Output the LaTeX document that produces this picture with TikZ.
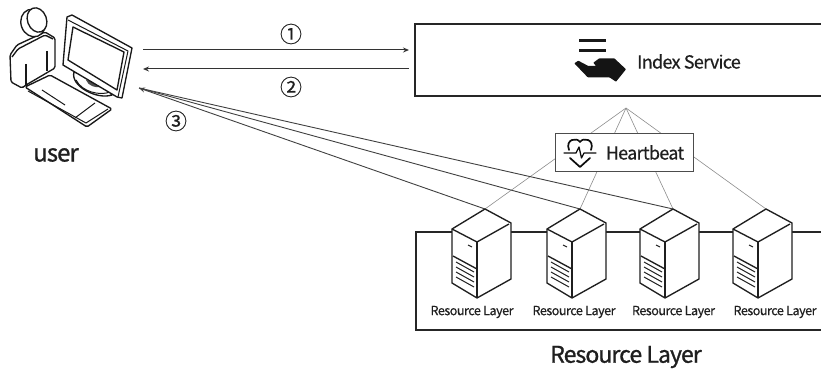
\documentclass[tikz,border=0pt]{standalone}
\usepackage{fontspec}
\setmainfont[LetterSpace=-4,FakeBold=0.5]{Noto Sans CJK KR}
\newfontfamily\headfont[LetterSpace=-4,FakeBold=1]{Noto Sans CJK KR}
\newfontfamily\circfont[FakeBold=0.3]{Noto Sans CJK KR}
\usetikzlibrary{arrows.meta}
\tikzset{
  frameline/.style={draw=black!85,line width=1.6pt},
  thinlink/.style={draw=black!45,line width=0.6pt},
  darklink/.style={draw=black!75,line width=0.9pt},
  flow/.style={draw=black!80,line width=1pt,-{Stealth[length=6pt,width=5pt]}},
  srv/.style={draw=black!88,line width=1.35pt,line join=round},
  usr/.style={draw=black!90,line width=1.35pt,line join=round},
  ico/.style={draw=black!95,line width=1.7pt,line join=round,line cap=round},
  lab/.style={inner sep=0pt,text=black!88},
  pics/serverunit/.style={code={
    \draw[srv,fill=white] (0,0)--(26,14)--(26,70)--(-8,89)--(-33,74)--(-33,20)--cycle;
    \draw[srv] (-33,20)--(-8,33)--(24,15);
    \draw[srv] (-8,33)--(-8,89);
    \draw[srv] (-32,47)--(-8,60);
    \draw[srv,line width=1pt] (-17,36)--(-13,38);
    \foreach \yy in {53,58,63,68}{\draw[srv,line width=1pt] (-29,\yy)--(-11,\yy+10);}
  }}
}
\begin{document}
\begin{tikzpicture}[x=1pt,y=-1pt]
\useasboundingbox (0,0) rectangle (821,374);
% anchors
\coordinate (hub) at (626,108);
\coordinate (s1) at (485,209);
\coordinate (s2) at (580,209);
\coordinate (s3) at (673,209);
\coordinate (s4) at (766,209);
\coordinate (uin) at (139,88);
\coordinate (uout) at (143,50);
\coordinate (uback) at (143,69);
\coordinate (ir) at (821,24);
\coordinate (il) at (415,24);
\coordinate (ilb) at (415,96);
\coordinate (irb) at (821,96);
\coordinate (rtr) at (821,232);
\coordinate (rtl) at (416,232);
\coordinate (rbl) at (416,330);
\coordinate (rbr) at (821,330);
\coordinate (iw1) at (409,50);
\coordinate (iw2) at (409,69);
% frames, open at the right
\draw[frameline] (ir) -- (il) -- (ilb) -- (irb);
\draw[frameline] (rtr) -- (rtl) -- (rbl) -- (rbr);
\node[lab,font=\fontsize{18}{19}\selectfont] (indext) at (689,61.5) {Index Service};
\node[lab,font=\headfont\fontsize{23}{24}\selectfont] (rl) at (626,357) {Resource Layer};
% links
\draw[thinlink] (hub)--(s1);
\draw[thinlink] (hub)--(s2);
\draw[thinlink] (hub)--(s3);
\draw[thinlink] (hub)--(s4);
\draw[darklink,{Stealth[length=6pt,width=5pt]}-] (uin)--(s1);
\draw[darklink] (uin)--(s2);
\draw[darklink] (uin)--(s3);
\draw[flow] (uout)--(iw1);
\draw[flow] (iw2)--(uback);
% heartbeat
\node[draw=black!70,line width=1pt,fill=white,minimum width=138pt,minimum height=38pt,inner sep=0pt] (hb) at (624,153) {};
\node[lab,font=\fontsize{18}{19}\selectfont] (hbt) at (645,152.5) {Heartbeat};
% heart icon
\begin{scope}[shift={(580,153)}]
\draw[ico] (-11,-3) .. controls (-15,-14) and (-3,-16) .. (0,-11) .. controls (3,-16) and (15,-14) .. (11,-3);
\draw[ico] (-10,5)--(0,14)--(10,5);
\draw[ico,line width=1.3pt] (-16,0)--(-4,0)--(-1,-6)--(1.5,5)--(4,0)--(16,0);
\end{scope}
% hand icon
\fill[black!90] (579,39.2) rectangle (606,42.5);
\fill[black!90] (579,49.2) rectangle (606,52.5);
\fill[black!92,rounded corners=.6pt] (574.3,63.3) -- (578.3,60.7) -- (588.3,66) -- (596,66) -- (593.3,62.7) -- (599.3,58.3) -- (614.3,58.3) -- (626,69.3) -- (616,81.7) -- (609.3,77.3) -- (587.7,77.3) -- cycle;
% servers
\pic at (s1) {serverunit};
\pic at (s2) {serverunit};
\pic at (s3) {serverunit};
\pic at (s4) {serverunit};
\foreach \n/\x in {a/472,b/574,c/673.5,d/775}{
  \node[lab,font=\fontsize{12.6}{13}\selectfont] (srvt\n) at (\x,312) {Resource Layer};
}
% labels
\node[lab,font=\circfont\fontsize{22}{23}\selectfont] (c1) at (291,34) {①};
\node[lab,font=\circfont\fontsize{22}{23}\selectfont] (c2) at (291,87) {②};
\node[lab,font=\circfont\fontsize{22}{23}\selectfont] (c3) at (176,121) {③};
\node[lab,font=\headfont\fontsize{24}{25}\selectfont] (ut) at (56,155) {user};
% user icon
\draw[usr,fill=white,rounded corners=1.5pt] (11,82) -- (10,55) -- (17,45) -- (45,32) -- (55,38) -- (55,68) -- (26,85) -- (22,88) -- cycle;
\draw[usr,rounded corners=1.5pt] (12,57) -- (18,49) -- (45,35) -- (53,39);
\draw[usr,line width=1.7pt] (26,64) -- (26,86);
\draw[usr,line width=1.7pt] (47,51) -- (47,71);
\draw[usr,fill=white,rotate around={20:(33,23)}] (33,23) ellipse (12 and 14);
\draw[usr,fill=white,rotate around={20:(37,20)}] (37,20) ellipse (9.5 and 12.5);
% keyboard
\draw[usr,fill=white,rounded corners=1.5pt] (25,87) -- (50,75) -- (112,109) -- (87,127) -- cycle;
\draw[usr,line width=1pt] (28,91) -- (86,123) -- (108,109);
\draw[usr,line width=1pt] (42,90) -- (65,105);
\draw[usr,line width=1pt] (75,118) -- (95,103);
% stand
\draw[usr,fill=white] (74,72) .. controls (70,86) and (97,100) .. (112,95) -- (100,80) -- cycle;
\draw[usr,line width=1pt] (76,80) .. controls (82,92) and (100,96) .. (110,92);
\fill[black!70] (86,80) .. controls (88,86) and (96,88) .. (100,87) -- (96,82) -- cycle;
% monitor
\draw[usr,fill=white] (67,17) -- (72,15) -- (132,48) -- (122,98) -- (117,97) -- (63,65) -- cycle;
\draw[usr] (73,27) -- (124,52) -- (117,90) -- (68,60) -- cycle;
\draw[usr,line width=1pt] (68,20) -- (128,51) -- (118,97);
\end{tikzpicture}
\end{document}
